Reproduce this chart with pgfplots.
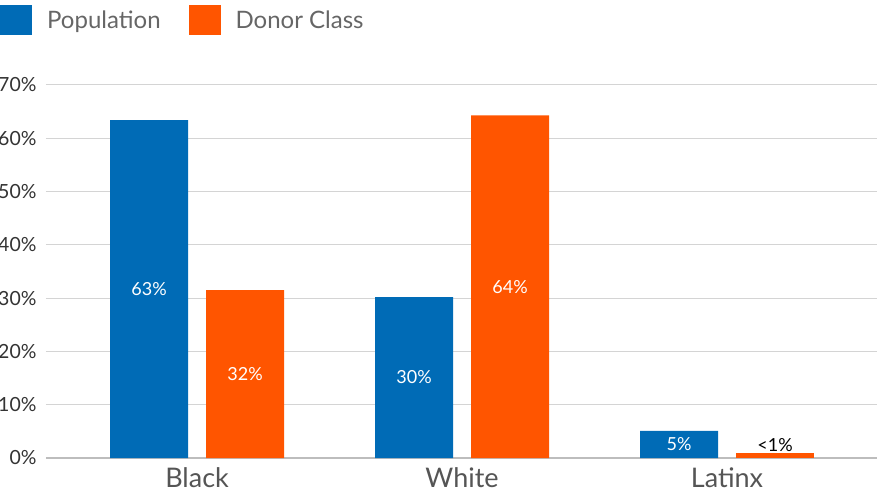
\documentclass[border=0pt]{standalone}
\usepackage{pgfplots}
\pgfplotsset{compat=1.18}
\usepackage{fontspec}
\setmainfont{Lato}

\definecolor{popblue}{HTML}{006BB6}
\definecolor{donorange}{HTML}{FF5500}
\definecolor{gridgray}{HTML}{D4D4D4}
\definecolor{basegray}{HTML}{BDBDBD}
\definecolor{legendgray}{HTML}{666666}
\definecolor{tickcol}{HTML}{333333}
\definecolor{catcol}{HTML}{555555}

\begin{document}
\begin{tikzpicture}
\begin{axis}[
  name=ax,
  scale only axis,
  width=831pt, height=373pt,
  xmin=-0.57, xmax=2.566,
  ymin=0, ymax=70,
  ybar,
  axis x line=bottom, axis y line=left,
  axis line style={-},
  x axis line style={draw=basegray, line width=2pt},
  y axis line style={draw=none},
  major tick length=0pt,
  ymajorgrids,
  grid style={draw=gridgray, line width=1pt},
  ytick={0,10,...,70},
  yticklabel={\pgfmathprintnumber{\tick}\%},
  /pgf/number format/assume math mode=true,
  yticklabel style={font=\fontsize{19.5}{19.5}\selectfont, text=tickcol, xshift=-6pt},
  xtick={0,1,2},
  xticklabels={Black,White,Latinx},
  xticklabel style={font=\fontsize{27}{27}\selectfont, text=catcol, yshift=-6pt},
  legend columns=2,
  legend style={at={(rel axis cs:0,1)}, anchor=west, xshift=-46pt, yshift=65pt,
    draw=none, fill=none, inner sep=0pt, column sep=0pt,
    nodes={inner sep=0pt, text=legendgray, font=\fontsize{24}{24}\selectfont}},
  legend image code/.code={\fill[#1] (0pt,-15pt) rectangle (32pt,15pt);},
  bar width=78pt,
  nodes near coords,
  point meta=explicit symbolic,
  visualization depends on={y \as \rawy},
]
\addplot[bar shift=-48pt, fill=popblue, draw=none,
  every node near coord/.append style={anchor=center, text=white,
    font=\fontsize{18}{18}\selectfont, shift={(axis direction cs:0,-\rawy/2)}}]
  coordinates {(0,63.4)[63\%] (1,30.2)[30\%] (2,5.1)[5\%]};
\addlegendentry{\rule{15pt}{0pt}Population\rule{28pt}{0pt}}
\addplot[bar shift=48pt, fill=donorange, draw=none,
  every node near coord/.append style={anchor=center, text=white,
    font=\fontsize{18}{18}\selectfont, shift={(axis direction cs:0,-\rawy/2)}}]
  coordinates {(0,31.5)[32\%] (1,64.3)[64\%]};
\addlegendentry{\rule{15pt}{0pt}Donor Class}
\addplot[forget plot, bar shift=48pt, fill=donorange, draw=none,
  every node near coord/.append style={anchor=south, text=black,
    font=\fontsize{18}{18}\selectfont, yshift=-2pt}]
  coordinates {(2,0.9)[<1\%]};
\end{axis}
\pgfresetboundingbox
\path[use as bounding box] ([shift={(-46pt,-42pt)}]ax.south west) rectangle ++(877pt,500pt);
\end{tikzpicture}
\end{document}
